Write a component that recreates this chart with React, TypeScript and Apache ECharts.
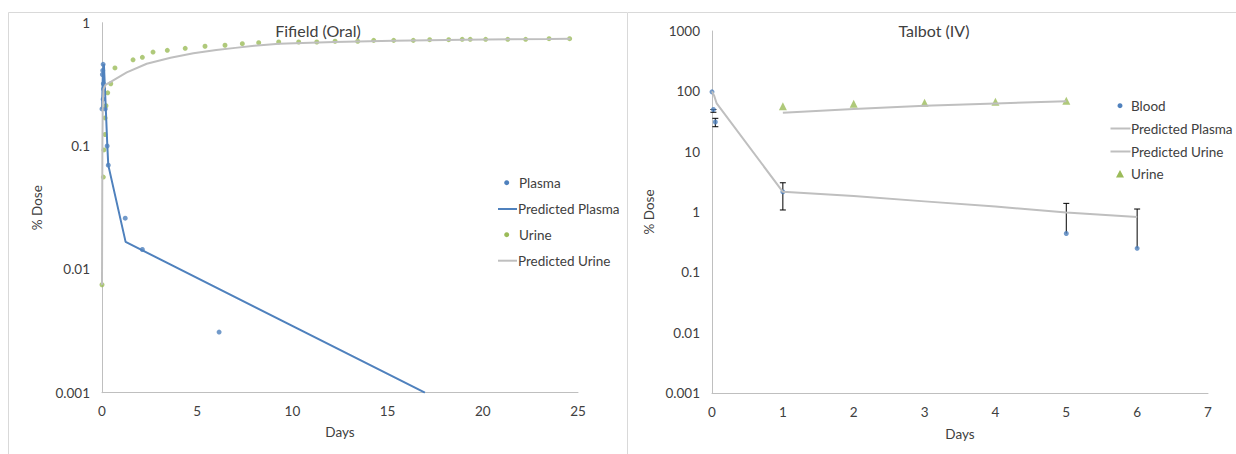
import React, { useEffect, useRef } from 'react';
import * as echarts from 'echarts';

// ---------- Fifield (Oral) ----------
const plasmaDays = [0.0, 0.02, 0.04, 0.06, 0.07, 0.08, 0.06, 0.17, 0.27, 0.33, 1.22, 2.12, 6.15];
const plasmaDose = [0.2, 0.38, 0.41, 0.46, 0.32, 0.29, 0.24, 0.2, 0.1, 0.07, 0.026, 0.0145, 0.0031];

const predPlasmaDays = [0, 0.05, 0.1, 0.2, 0.28, 0.33, 1.24, 16.96];
const predPlasmaDose = [0.2, 0.42, 0.46, 0.2, 0.1, 0.07, 0.0167, 0.001];

const urineDays = [0, 0.07, 0.1, 0.16, 0.16, 0.21, 0.3, 0.46, 0.68, 1.63, 2.12, 2.68, 3.43, 4.37, 5.41, 6.46, 7.37, 8.23, 9.28, 10.33, 11.28, 12.24, 13.43, 14.27, 15.32, 16.35, 17.21, 18.21, 18.92, 19.34, 20.15, 21.31, 22.25, 23.48, 24.56];
const urineDose = [0.0075, 0.056, 0.093, 0.124, 0.169, 0.212, 0.27, 0.32, 0.43, 0.5, 0.524, 0.578, 0.597, 0.62, 0.644, 0.656, 0.676, 0.689, 0.697, 0.697, 0.697, 0.707, 0.707, 0.719, 0.719, 0.719, 0.728, 0.728, 0.733, 0.733, 0.733, 0.733, 0.733, 0.742, 0.742];

const predUrineDays = [0, 0.02, 0.04, 0.08, 0.2, 0.5, 1.3, 2.35, 3.6, 4.8, 6, 7, 8, 9.3, 12.2, 15.3, 19, 23.5, 24.6];
const predUrineDose = [0.0075, 0.1, 0.22, 0.29, 0.315, 0.335, 0.395, 0.465, 0.52, 0.565, 0.6, 0.625, 0.65, 0.676, 0.697, 0.715, 0.728, 0.738, 0.742];

const oralDayTicks = { min: 0, max: 25, interval: 5 };
const oralDoseRange = { min: 0.001, max: 1 };

// ---------- Talbot (IV) ----------
const bloodDays = [0, 0.02, 0.047, 1, 5, 6];
const bloodDose = [98, 50, 31, 2.16, 0.44, 0.25];
const bloodErrLow = [null, 45, 25.9, 1.08, 0.44, 0.25];
const bloodErrHigh = [null, 50, 35.7, 3.05, 1.39, 1.12];
const bloodErrLowCap = [0, 1, 1, 1, 0, 0];

const ivPredPlasmaDays = [0, 0.03, 0.066, 1, 2, 3, 4, 5, 6];
const ivPredPlasmaDose = [100, 85, 63, 2.16, 1.84, 1.5, 1.23, 0.98, 0.83];

const ivPredUrineDays = [1, 2, 3, 4, 5];
const ivPredUrineDose = [44.2, 50.9, 57.7, 63, 68.3];

const ivUrineDays = [1, 2, 3, 4, 5];
const ivUrineDose = [56.4, 62.3, 64.8, 67.3, 69.9];

const ivDayTicks = { min: 0, max: 7, interval: 1 };
const ivDoseRange = { min: 0.001, max: 1000 };

const BLUE = '#4F81BD';
const GREEN = '#9BBB59';
const GRAY = '#BFBFBF';
const TXT = '#404040';
const FONT = 'Lato, "Liberation Sans", sans-serif';
const FS = 13.5;

const pairs = (xs: number[], ys: number[]) => xs.map((x, i) => [x, ys[i]]);

const logFmt = (v: number) => String(parseFloat(v.toPrecision(6)));

function App() {
  const ref = useRef<HTMLDivElement>(null);

  useEffect(() => {
    if (!ref.current) return;
    const chart = echarts.init(ref.current, undefined, { renderer: 'svg' });

    const axisLine = { show: true, lineStyle: { color: GRAY, width: 1 } };
    const axisLabel = { color: TXT, fontSize: FS, fontFamily: FONT };
    const nameStyle = { color: TXT, fontSize: FS, fontFamily: FONT };

    const errData = bloodDays
      .map((d, i) => [d, bloodErrLow[i], bloodErrHigh[i], bloodErrLowCap[i]])
      .filter((r) => r[1] !== null);

    const legendText = (x: number, y: number, text: string) => ({
      type: 'text',
      x,
      y,
      style: { text, fill: TXT, fontSize: FS, fontFamily: FONT, verticalAlign: 'middle', align: 'left' },
    });

    // right legend horizontal anchor (shifted slightly so the longest entry fits)
    const RL = 1131;

    const option: any = {
      animation: false,
      backgroundColor: '#ffffff',
      grid: [
        { left: 102, top: 22.7, width: 476, height: 370 },
        { left: 712, top: 31, width: 496, height: 362 },
      ],
      xAxis: [
        {
          gridIndex: 0,
          type: 'value',
          ...oralDayTicks,
          axisLine,
          axisTick: { show: false },
          splitLine: { show: false },
          axisLabel: { ...axisLabel, margin: 11 },
          name: 'Days',
          nameLocation: 'middle',
          nameGap: 32,
          nameTextStyle: nameStyle,
        },
        {
          gridIndex: 1,
          type: 'value',
          ...ivDayTicks,
          axisLine,
          axisTick: { show: false },
          splitLine: { show: false },
          axisLabel: { ...axisLabel, margin: 12 },
          name: 'Days',
          nameLocation: 'middle',
          nameGap: 34,
          nameTextStyle: nameStyle,
        },
      ],
      yAxis: [
        {
          gridIndex: 0,
          type: 'log',
          logBase: 10,
          ...oralDoseRange,
          axisLine,
          axisTick: { show: false },
          splitLine: { show: false },
          axisLabel: { ...axisLabel, margin: 12, formatter: logFmt },
          name: '% Dose',
          nameLocation: 'middle',
          nameGap: 58,
          nameTextStyle: nameStyle,
        },
        {
          gridIndex: 1,
          type: 'log',
          logBase: 10,
          ...ivDoseRange,
          axisLine,
          axisTick: { show: false },
          splitLine: { show: false },
          axisLabel: { ...axisLabel, margin: 12, formatter: logFmt },
          name: '% Dose',
          nameLocation: 'middle',
          nameGap: 56,
          nameTextStyle: nameStyle,
        },
      ],
      series: [
        {
          name: 'Plasma',
          type: 'scatter',
          xAxisIndex: 0,
          yAxisIndex: 0,
          symbolSize: 5,
          itemStyle: { color: BLUE },
          data: pairs(plasmaDays, plasmaDose),
        },
        {
          name: 'Predicted Plasma',
          type: 'line',
          xAxisIndex: 0,
          yAxisIndex: 0,
          symbol: 'none',
          lineStyle: { color: BLUE, width: 2 },
          data: pairs(predPlasmaDays, predPlasmaDose),
        },
        {
          name: 'Urine',
          type: 'scatter',
          xAxisIndex: 0,
          yAxisIndex: 0,
          symbolSize: 5,
          itemStyle: { color: GREEN },
          data: pairs(urineDays, urineDose),
        },
        {
          name: 'Predicted Urine',
          type: 'line',
          xAxisIndex: 0,
          yAxisIndex: 0,
          symbol: 'none',
          lineStyle: { color: GRAY, width: 2 },
          data: pairs(predUrineDays, predUrineDose),
        },
        {
          name: 'Predicted Plasma (IV)',
          type: 'line',
          xAxisIndex: 1,
          yAxisIndex: 1,
          symbol: 'none',
          lineStyle: { color: GRAY, width: 2 },
          data: pairs(ivPredPlasmaDays, ivPredPlasmaDose),
        },
        {
          name: 'Predicted Urine (IV)',
          type: 'line',
          xAxisIndex: 1,
          yAxisIndex: 1,
          symbol: 'none',
          lineStyle: { color: GRAY, width: 2 },
          data: pairs(ivPredUrineDays, ivPredUrineDose),
        },
        {
          name: 'Blood error',
          type: 'custom',
          xAxisIndex: 1,
          yAxisIndex: 1,
          data: errData,
          encode: { x: 0, y: [1, 2] },
          renderItem: (params: any, api: any) => {
            const x = api.value(0);
            const lo = api.coord([x, api.value(1)]);
            const hi = api.coord([x, api.value(2)]);
            const capLo = api.value(3);
            const st = { stroke: '#000000', lineWidth: 1 };
            const children: any[] = [
              { type: 'line', shape: { x1: lo[0], y1: lo[1], x2: hi[0], y2: hi[1] }, style: st },
              { type: 'line', shape: { x1: hi[0] - 3, y1: hi[1], x2: hi[0] + 3, y2: hi[1] }, style: st },
            ];
            if (capLo) {
              children.push({ type: 'line', shape: { x1: lo[0] - 3, y1: lo[1], x2: lo[0] + 3, y2: lo[1] }, style: st });
            }
            return { type: 'group', children };
          },
        },
        {
          name: 'Blood',
          type: 'scatter',
          xAxisIndex: 1,
          yAxisIndex: 1,
          symbolSize: 5,
          itemStyle: { color: BLUE },
          data: pairs(bloodDays, bloodDose),
        },
        {
          name: 'Urine (IV)',
          type: 'scatter',
          xAxisIndex: 1,
          yAxisIndex: 1,
          symbol: 'triangle',
          symbolSize: 8,
          itemStyle: { color: GREEN },
          data: pairs(ivUrineDays, ivUrineDose),
        },
      ],
      graphic: [
        // chart frames
        {
          type: 'rect',
          silent: true,
          z: -10,
          shape: { x: 8.5, y: 12.5, width: 619, height: 470 },
          style: { fill: 'none', stroke: '#D9D9D9', lineWidth: 1 },
        },
        {
          type: 'line',
          silent: true,
          z: -10,
          shape: { x1: 628, y1: 12.5, x2: 1236, y2: 12.5 },
          style: { stroke: '#D9D9D9', lineWidth: 1 },
        },
        // titles
        {
          type: 'text',
          x: 318,
          y: 30,
          style: { text: 'Fifield (Oral)', fill: TXT, fontSize: 16, fontFamily: FONT, align: 'center', verticalAlign: 'middle' },
        },
        {
          type: 'text',
          x: 934,
          y: 30,
          style: { text: 'Talbot (IV)', fill: TXT, fontSize: 16, fontFamily: FONT, align: 'center', verticalAlign: 'middle' },
        },
        // left legend
        { type: 'circle', shape: { cx: 506.7, cy: 182.7, r: 2.5 }, style: { fill: BLUE } },
        legendText(519, 182.7, 'Plasma'),
        { type: 'line', shape: { x1: 498, y1: 209, x2: 517, y2: 209 }, style: { stroke: BLUE, lineWidth: 2 } },
        legendText(518, 209, 'Predicted Plasma'),
        { type: 'circle', shape: { cx: 506.7, cy: 234.7, r: 2.5 }, style: { fill: GREEN } },
        legendText(519, 234.7, 'Urine'),
        { type: 'line', shape: { x1: 498, y1: 260.7, x2: 517, y2: 260.7 }, style: { stroke: GRAY, lineWidth: 2 } },
        legendText(518, 260.7, 'Predicted Urine'),
        // right legend
        { type: 'circle', shape: { cx: RL - 11, cy: 105.7, r: 2.5 }, style: { fill: BLUE } },
        legendText(RL, 105.7, 'Blood'),
        { type: 'line', shape: { x1: RL - 20.5, y1: 128.5, x2: RL - 0.5, y2: 128.5 }, style: { stroke: GRAY, lineWidth: 2 } },
        legendText(RL, 128.5, 'Predicted Plasma'),
        { type: 'line', shape: { x1: RL - 20.5, y1: 151.5, x2: RL - 0.5, y2: 151.5 }, style: { stroke: GRAY, lineWidth: 2 } },
        legendText(RL, 151.5, 'Predicted Urine'),
        { type: 'polygon', shape: { points: [[RL - 11, 170], [RL - 7, 177.5], [RL - 15, 177.5]] }, style: { fill: GREEN } },
        legendText(RL, 174, 'Urine'),
      ],
    };

    chart.setOption(option);
    return () => chart.dispose();
  }, []);

  return (
    <div
      ref={ref}
      style={{ position: 'fixed', left: 0, top: 0, width: '1236px', height: '454px', background: '#fff' }}
    />
  );
}

export default App;
